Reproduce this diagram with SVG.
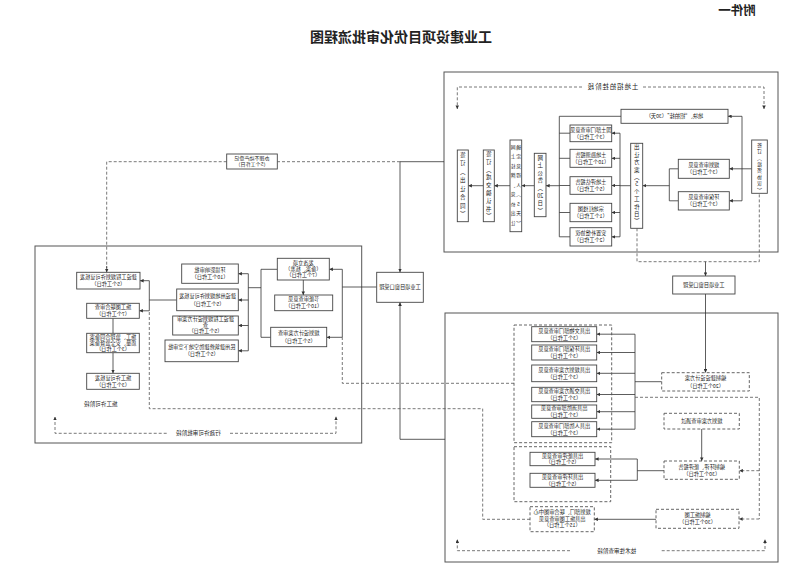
<svg xmlns="http://www.w3.org/2000/svg" width="799" height="570" viewBox="0 0 799 570">
<defs>
<style>
.stage{fill:none;stroke:#555;stroke-width:1}
.box{fill:#fff;stroke:#444;stroke-width:0.9}
.dbox{fill:#fff;stroke:#555;stroke-width:0.9;stroke-dasharray:3 2}
.grp{fill:none;stroke:#555;stroke-width:0.9;stroke-dasharray:3 2}
.ln{fill:none;stroke:#333;stroke-width:0.8}
.dl{fill:none;stroke:#555;stroke-width:0.8;stroke-dasharray:3 2}
text{font-family:"Noto Sans CJK SC","Noto Sans CJK JP",sans-serif;fill:#222;text-anchor:middle}
.t{font-size:5.2px}
.v{font-size:5.5px}
.v2{font-size:4.8px}
.lbl{font-size:5.6px}
.title{font-size:14px;font-weight:bold}
</style>
<marker id="a" viewBox="0 0 6 6" refX="6" refY="3" markerWidth="3.6" markerHeight="3.6" markerUnits="userSpaceOnUse" orient="auto"><path d="M0,0 L6,3 L0,6z" fill="#333"/></marker>
</defs>
<rect width="799" height="570" fill="#fff"/>

<text class="title" transform="matrix(-1 0 0 1 737 0)" x="0" y="15" style="font-size:12.5px">附件一</text>
<text class="title" transform="matrix(-1 0 0 1 401 0)" x="0" y="42">工业建设项目优化审批流程图</text>

<!-- stage frames -->
<g id="stage-land"><rect class="stage" x="444" y="72" width="334" height="180"/>
<text class="lbl" transform="matrix(-1 0 0 1 612.5 0)" x="0" y="89.2" style="font-size:6.4px;letter-spacing:1px">土地招拍挂阶段</text></g>
<g id="stage-permit"><rect class="stage" x="35" y="246" width="326.7" height="197"/>
<text class="lbl" transform="matrix(-1 0 0 1 100.7 0)" x="0" y="406">施工许可阶段</text>
<text class="lbl" transform="matrix(-1 0 0 1 198.3 0)" x="0" y="435.3">行政许可审批阶段</text></g>
<g id="stage-tech"><rect class="stage" x="445" y="313" width="333" height="249"/>
<text class="lbl" transform="matrix(-1 0 0 1 616.7 0)" x="0" y="552.7">技术性审查阶段</text></g>

<!-- connectors -->
<g id="connectors">
<path class="dl" d="M582,87 H457.3 V109" marker-end="url(#a)"/>
<path class="dl" d="M643,87 H764 V109" marker-end="url(#a)"/>
<path class="ln" d="M751.7,168.8 H742 M742,116.3 V200.8"/>
<path class="ln" d="M742,116.3 H728" marker-end="url(#a)"/>
<path class="ln" d="M742,168.8 H729.3" marker-end="url(#a)"/>
<path class="ln" d="M742,200.8 H729.3" marker-end="url(#a)"/>
<path class="ln" d="M678.3,168.8 H669.3 V200.8 H678.3"/>
<path class="ln" d="M669.3,185.7 H642.7" marker-end="url(#a)"/>
<path class="ln" d="M630.7,185.7 H620 M620,133.2 V236.8"/>
<path class="ln" d="M620,133.2 H611.7" marker-end="url(#a)"/>
<path class="ln" d="M620,158.3 H611.7" marker-end="url(#a)"/>
<path class="ln" d="M620,185.5 H611.7" marker-end="url(#a)"/>
<path class="ln" d="M620,212.5 H611.7" marker-end="url(#a)"/>
<path class="ln" d="M620,236.8 H611.7" marker-end="url(#a)"/>
<path class="ln" d="M621,116.3 H559.3 V236.8 H570 M570,133.2 H559.3 M570,158.3 H559.3 M570,185.5 H559.3 M570,212.5 H559.3"/>
<path class="ln" d="M559.3,185.7 H546" marker-end="url(#a)"/>
<path class="ln" d="M534.3,185.7 H521.7" marker-end="url(#a)"/>
<path class="ln" d="M510,185.7 H494.3" marker-end="url(#a)"/>
<path class="ln" d="M483.3,185.7 H468.3" marker-end="url(#a)"/>
<path class="dl" d="M637,228.3 V261.7 H759.3 V193.3"/>
<path class="ln" d="M705.5,261.7 V276" marker-end="url(#a)"/>
<path class="ln" d="M705.5,294 V372.7" marker-end="url(#a)"/>

<path class="ln" d="M444,161.7 H400 V272.3" marker-end="url(#a)"/>
<path class="dl" d="M400,161.7 H277.3 M226.7,161.7 H106.7 V268"/>
<path class="ln" d="M106.7,266 V272.3" marker-end="url(#a)"/>
<path class="ln" d="M376.7,287 H342.3 M342.3,269.3 V337.3"/>
<path class="ln" d="M342.3,269.3 H329.3" marker-end="url(#a)"/>
<path class="ln" d="M342.3,337.3 H326.7" marker-end="url(#a)"/>
<path class="dl" d="M514,383.3 H342.3 V337.3"/>
<path class="ln" d="M445,439.3 H400 V302.3" marker-end="url(#a)"/>

<path class="ln" d="M277.3,269.3 H261 V337.3 H270.7 M261,287.7 H248.3 M248.3,273.7 V350.8"/>
<path class="ln" d="M248.3,273.7 H238.3" marker-end="url(#a)"/>
<path class="ln" d="M248.3,300 H238.3" marker-end="url(#a)"/>
<path class="ln" d="M248.3,325.5 H238.3" marker-end="url(#a)"/>
<path class="ln" d="M248.3,350.8 H238.3" marker-end="url(#a)"/>
<path class="ln" d="M303.3,280 V295" marker-end="url(#a)"/>
<path class="ln" d="M176.7,300 H149.3 M149.3,280.7 V310.8"/>
<path class="ln" d="M149.3,280.7 H140" marker-end="url(#a)"/>
<path class="ln" d="M149.3,310.8 H139.3" marker-end="url(#a)"/>
<path class="dl" d="M530,519.3 H482.7 V408.7 H149.3 V310.8"/>
<path class="ln" d="M113,318.3 V333.3"/>
<path class="ln" d="M113,352.7 V373.3" marker-end="url(#a)"/>
<path class="dl" d="M166.7,433.3 H55 V416.7" marker-end="url(#a)"/>
<path class="dl" d="M230,433.3 H336 V416.7" marker-end="url(#a)"/>

<path class="ln" d="M661.7,381.7 H635 M635,334.2 V429.2"/>
<path class="ln" d="M635,334.2 H596.7" marker-end="url(#a)"/>
<path class="ln" d="M635,352.5 H596.7" marker-end="url(#a)"/>
<path class="ln" d="M635,373.3 H596.7" marker-end="url(#a)"/>
<path class="ln" d="M635,394.5 H596.7" marker-end="url(#a)"/>
<path class="ln" d="M635,411.7 H596.7" marker-end="url(#a)"/>
<path class="ln" d="M635,429.2 H596.7" marker-end="url(#a)"/>
<path class="dl" d="M635,397.3 H759.3 V519"/>
<path class="dl" d="M759.3,470.7 H739.3" marker-end="url(#a)"/>
<path class="dl" d="M759.3,519 H739" marker-end="url(#a)"/>
<path class="ln" d="M701.7,429 V461" marker-end="url(#a)"/>
<path class="ln" d="M664,470.7 H637.3 M637.3,459 V480.3"/>
<path class="ln" d="M637.3,459 H595" marker-end="url(#a)"/>
<path class="ln" d="M637.3,480.3 H595" marker-end="url(#a)"/>
<path class="ln" d="M656,519.3 H594.3" marker-end="url(#a)"/>
<path class="dl" d="M570,550.7 H457.3 V539.3" marker-end="url(#a)"/>
<path class="dl" d="M661.7,550.7 H765 V539.3" marker-end="url(#a)"/>
</g>

<!-- land stage nodes -->
<g id="land-sign-agreement"><rect class="box" x="751.7" y="140" width="15.6" height="53.3"/>
<text class="v" transform="matrix(-1 0 0 1 759.5 0)" style="font-size:5px"><tspan x="0" y="146.7">签</tspan><tspan x="0" y="153.1">订</tspan><tspan x="0" y="159.5">︵</tspan><tspan x="0" y="165.9">投</tspan><tspan x="0" y="172.3">资</tspan><tspan x="0" y="178.7">协</tspan><tspan x="0" y="185.1">议</tspan><tspan x="0" y="191.5">︶</tspan></text></g>
<g id="land-plot"><rect class="box" x="621" y="109.3" width="107" height="14"/>
<text class="t" transform="matrix(-1 0 0 1 674.5 0)" x="0" y="118.3">地块、“招拍挂”（30天）</text></g>
<g id="land-planning"><rect class="box" x="678.3" y="159.3" width="51" height="19"/>
<text class="t" transform="matrix(-1 0 0 1 703.8 0)"><tspan x="0" y="167.2">规划审查意见</tspan><tspan x="0" y="174.4">（3个工作日）</tspan></text></g>
<g id="land-env"><rect class="box" x="678.3" y="191.7" width="51" height="18.3"/>
<text class="t" transform="matrix(-1 0 0 1 703.8 0)"><tspan x="0" y="199.2">环保审查意见</tspan><tspan x="0" y="206.4">（3个工作日）</tspan></text></g>
<g id="land-plan"><rect class="box" x="630.7" y="143.3" width="12" height="85"/>
<text class="v" transform="matrix(-1 0 0 1 636.7 0)"><tspan x="0" y="149.3">出</tspan><tspan x="0" y="156.7">让</tspan><tspan x="0" y="164.1">方</tspan><tspan x="0" y="171.5">案</tspan><tspan x="0" y="178.9">︵</tspan><tspan x="0" y="186.3">5</tspan><tspan x="0" y="193.7">个</tspan><tspan x="0" y="201.1">工</tspan><tspan x="0" y="208.5">作</tspan><tspan x="0" y="215.9">日</tspan><tspan x="0" y="223.3">︶</tspan></text></g>
<g id="land-guotu"><rect class="box" x="570" y="125" width="41.7" height="16.7"/>
<text class="t" transform="matrix(-1 0 0 1 590.8 0)"><tspan x="0" y="131.6">国土部门审查意见</tspan><tspan x="0" y="138.8">（3个工作日）</tspan></text></g>
<g id="land-survey"><rect class="box" x="570" y="149.3" width="41.7" height="18"/>
<text class="t" transform="matrix(-1 0 0 1 590.8 0)"><tspan x="0" y="156.7">土地勘测报告</tspan><tspan x="0" y="163.9">（10个工作日）</tspan></text></g>
<g id="land-assess"><rect class="box" x="570" y="176.7" width="41.7" height="17.6"/>
<text class="t" transform="matrix(-1 0 0 1 590.8 0)"><tspan x="0" y="183.9">土地评估报告</tspan><tspan x="0" y="191.1">（5个工作日）</tspan></text></g>
<g id="land-redline"><rect class="box" x="570" y="203.3" width="41.7" height="18.4"/>
<text class="t" transform="matrix(-1 0 0 1 590.8 0)"><tspan x="0" y="210.9">宗地红线图</tspan><tspan x="0" y="218.1">（1个工作日）</tspan></text></g>
<g id="land-resettle"><rect class="box" x="570" y="227.7" width="41.7" height="18.3"/>
<text class="t" transform="matrix(-1 0 0 1 590.8 0)"><tspan x="0" y="235.2">安置补偿协议</tspan><tspan x="0" y="242.4">（2个工作日）</tspan></text></g>
<g id="land-notice"><rect class="box" x="534.3" y="153.3" width="11.7" height="63.4"/>
<text class="v" transform="matrix(-1 0 0 1 540.2 0)"><tspan x="0" y="159.5">网</tspan><tspan x="0" y="167.1">上</tspan><tspan x="0" y="174.7">公</tspan><tspan x="0" y="182.3">告</tspan><tspan x="0" y="189.9">︵</tspan><tspan x="0" y="197.5">20</tspan><tspan x="0" y="205.1">日</tspan><tspan x="0" y="212.7">︶</tspan></text></g>
<g id="land-auction"><rect class="box" x="510" y="140" width="11.7" height="91.7"/>
<text class="v2" transform="matrix(-1 0 0 1 515.8 0)"><tspan x="2.7" y="148.8">网</tspan><tspan x="2.7" y="158.3">上</tspan><tspan x="2.7" y="167.8">挂</tspan><tspan x="2.7" y="177.3">牌</tspan><tspan x="2.7" y="186.8">、</tspan><tspan x="2.7" y="196.3">竞</tspan><tspan x="2.7" y="205.8">价</tspan><tspan x="2.7" y="215.3">出</tspan><tspan x="2.7" y="224.8">让</tspan><tspan x="-2.7" y="148.8">确</tspan><tspan x="-2.7" y="158.3">定</tspan><tspan x="-2.7" y="167.8">竞</tspan><tspan x="-2.7" y="177.3">得</tspan><tspan x="-2.7" y="186.8">人</tspan><tspan x="-2.7" y="196.3">︵</tspan><tspan x="-2.7" y="205.8">5</tspan><tspan x="-2.7" y="215.3">天</tspan><tspan x="-2.7" y="224.8">︶</tspan></text></g>
<g id="land-confirm"><rect class="box" x="483.3" y="150" width="11" height="71.7"/>
<text class="v" transform="matrix(-1 0 0 1 488.8 0)"><tspan x="0" y="156">签</tspan><tspan x="0" y="163.8">订</tspan><tspan x="0" y="171.6">︵</tspan><tspan x="0" y="179.4">成</tspan><tspan x="0" y="187.2">交</tspan><tspan x="0" y="195">确</tspan><tspan x="0" y="202.8">认</tspan><tspan x="0" y="210.6">书</tspan><tspan x="0" y="218.4">︶</tspan></text></g>
<g id="land-contract"><rect class="box" x="457.3" y="150" width="11" height="71.7"/>
<text class="v" transform="matrix(-1 0 0 1 462.8 0)"><tspan x="0" y="156.5">签</tspan><tspan x="0" y="165">订</tspan><tspan x="0" y="173.5">︵</tspan><tspan x="0" y="182">出</tspan><tspan x="0" y="190.5">让</tspan><tspan x="0" y="199">合</tspan><tspan x="0" y="207.5">同</tspan><tspan x="0" y="216">︶</tspan></text></g>

<!-- middle nodes -->
<g id="property-reg"><rect class="box" x="226.7" y="154" width="50.6" height="15"/>
<text class="t" transform="matrix(-1 0 0 1 252 0)" style="font-size:5px"><tspan x="0" y="159.8">办理不动产登记</tspan><tspan x="0" y="166.4">（5个工作日）</tspan></text></g>
<g id="accept-left"><rect class="box" x="376.7" y="272.3" width="46.6" height="30"/>
<text class="t" transform="matrix(-1 0 0 1 400 0)" x="0" y="289.3">工业项目窗口受理</text></g>
<g id="accept-right"><rect class="box" x="672.7" y="276" width="62.3" height="18"/>
<text class="t" transform="matrix(-1 0 0 1 703.8 0)" x="0" y="287">工业项目窗口受理</text></g>

<!-- permit stage nodes -->
<g id="p-build-permit"><rect class="box" x="76.7" y="272.3" width="63.3" height="16.7"/>
<text class="t" transform="matrix(-1 0 0 1 108.3 0)"><tspan x="0" y="279.1">建设工程规划许可证核发</tspan><tspan x="0" y="286.3">（5个工作日）</tspan></text></g>
<g id="p-drawing"><rect class="box" x="86.7" y="303.3" width="52.6" height="15"/>
<text class="t" transform="matrix(-1 0 0 1 113 0)"><tspan x="0" y="309.2">施工图联合审查</tspan><tspan x="0" y="316.4">（7个工作日）</tspan></text></g>
<g id="p-filing"><rect class="box" x="86.7" y="333.3" width="52.6" height="19.4"/>
<text class="t" transform="matrix(-1 0 0 1 113 0)"><tspan x="0" y="339.1">施工、监理合同备案</tspan><tspan x="0" y="344.9">质量、安全监督备案</tspan><tspan x="0" y="350.7">（3个工作日）</tspan></text></g>
<g id="p-construction-permit"><rect class="box" x="86.7" y="373.3" width="52.6" height="16"/>
<text class="t" transform="matrix(-1 0 0 1 113 0)"><tspan x="0" y="379.7">施工许可证核发</tspan><tspan x="0" y="386.9">（3个工作日）</tspan></text></g>
<g id="p-eia"><rect class="box" x="181.7" y="264" width="56.6" height="19.3"/>
<text class="t" transform="matrix(-1 0 0 1 210 0)"><tspan x="0" y="272.1">环境影响审批</tspan><tspan x="0" y="279.3">（10个工作日）</tspan></text></g>
<g id="p-land-permit"><rect class="box" x="176.7" y="289" width="61.6" height="21.7"/>
<text class="t" transform="matrix(-1 0 0 1 207.5 0)"><tspan x="0" y="298.4">建设用地规划许可证核发</tspan><tspan x="0" y="305.6">（5个工作日）</tspan></text></g>
<g id="p-design"><rect class="box" x="172.7" y="316" width="65.6" height="19"/>
<text class="t" transform="matrix(-1 0 0 1 205.5 0)"><tspan x="0" y="321">建设工程规划设计方案审</tspan><tspan x="0" y="326.9">查</tspan><tspan x="0" y="332.8">（5个工作日）</tspan></text></g>
<g id="p-civil-defense"><rect class="box" x="165" y="340" width="73.3" height="21.7"/>
<text class="t" transform="matrix(-1 0 0 1 201.7 0)"><tspan x="0" y="349.2">民用建筑修建防空地下室审批</tspan><tspan x="0" y="356.4">（5个工作日）</tspan></text></g>
<g id="p-approval"><rect class="box" x="277.3" y="258.3" width="52" height="21.7"/>
<text class="t" transform="matrix(-1 0 0 1 303.3 0)"><tspan x="0" y="264.7">发改立项</tspan><tspan x="0" y="270.9">（备案、核准）</tspan><tspan x="0" y="277.1">（7个工作日）</tspan></text></g>
<g id="p-energy"><rect class="box" x="274.7" y="295" width="58" height="15.7"/>
<text class="t" transform="matrix(-1 0 0 1 303.7 0)"><tspan x="0" y="301.2">节能审查意见</tspan><tspan x="0" y="308.4">（10个工作日）</tspan></text></g>
<g id="p-scheme"><rect class="box" x="270.7" y="327.3" width="56" height="19.4"/>
<text class="t" transform="matrix(-1 0 0 1 298.7 0)"><tspan x="0" y="335.4">规划设计方案审查</tspan><tspan x="0" y="342.6">（5个工作日）</tspan></text></g>

<!-- technical stage nodes -->
<g id="t-group1"><rect class="grp" x="514" y="325" width="97.7" height="117.7"/></g>
<g id="t-op1"><rect class="box" x="531.7" y="326.7" width="65" height="15"/>
<text class="t" transform="matrix(-1 0 0 1 564.2 0)"><tspan x="0" y="332.6">出具文物部门审查意见</tspan><tspan x="0" y="339.8">（3个工作日）</tspan></text></g>
<g id="t-op2"><rect class="box" x="531.7" y="345" width="65" height="15"/>
<text class="t" transform="matrix(-1 0 0 1 564.2 0)"><tspan x="0" y="350.9">出具环保部门审查意见</tspan><tspan x="0" y="358.1">（3个工作日）</tspan></text></g>
<g id="t-op3"><rect class="box" x="531.7" y="365" width="65" height="16.7"/>
<text class="t" transform="matrix(-1 0 0 1 564.2 0)"><tspan x="0" y="371.7">出具规划方案审查意见</tspan><tspan x="0" y="378.9">（3个工作日）</tspan></text></g>
<g id="t-op4"><rect class="box" x="531.7" y="387.3" width="65" height="14.4"/>
<text class="t" transform="matrix(-1 0 0 1 564.2 0)"><tspan x="0" y="392.9">出具交通方案审查意见</tspan><tspan x="0" y="400.1">（3个工作日）</tspan></text></g>
<g id="t-op5"><rect class="box" x="531.7" y="405" width="65" height="13.3"/>
<text class="t" transform="matrix(-1 0 0 1 564.2 0)"><tspan x="0" y="410.1">出具消防部审查意见</tspan><tspan x="0" y="416.9">（3个工作日）</tspan></text></g>
<g id="t-op6"><rect class="box" x="531.7" y="421.7" width="65" height="15"/>
<text class="t" transform="matrix(-1 0 0 1 564.2 0)"><tspan x="0" y="427.6">出具人防部门审查意见</tspan><tspan x="0" y="434.8">（3个工作日）</tspan></text></g>
<g id="t-scheme-draft"><rect class="dbox" x="661.7" y="372.7" width="87.6" height="18.3"/>
<text class="t" transform="matrix(-1 0 0 1 705.5 0)"><tspan x="0" y="380.4">编制建设设计方案</tspan><tspan x="0" y="387.6">（20个工作日）</tspan></text></g>
<g id="t-scheme-pass"><rect class="dbox" x="664" y="413.3" width="75.3" height="15.7"/>
<text class="t" transform="matrix(-1 0 0 1 701.7 0)" x="0" y="423.2">规划方案审查通过</text></g>
<g id="t-eia-draft"><rect class="dbox" x="664" y="461" width="75.3" height="18.3"/>
<text class="t" transform="matrix(-1 0 0 1 701.7 0)"><tspan x="0" y="468.6">编制环评、能评报告</tspan><tspan x="0" y="475.8">（30个工作日）</tspan></text></g>
<g id="t-group2"><rect class="grp" x="514" y="446.7" width="96.7" height="55"/></g>
<g id="t-energy-op"><rect class="box" x="530" y="452.3" width="65" height="13.4"/>
<text class="t" transform="matrix(-1 0 0 1 562.5 0)"><tspan x="0" y="457.5">出具能评审查意见</tspan><tspan x="0" y="464.4">（5个工作日）</tspan></text></g>
<g id="t-eia-op"><rect class="box" x="530" y="473.3" width="65" height="14"/>
<text class="t" transform="matrix(-1 0 0 1 562.5 0)"><tspan x="0" y="478.7">出具环评审查意见</tspan><tspan x="0" y="485.9">（5个工作日）</tspan></text></g>
<g id="t-drawing-draft"><rect class="dbox" x="656" y="509.3" width="83" height="19"/>
<text class="t" transform="matrix(-1 0 0 1 697.5 0)"><tspan x="0" y="517.2">编制施工图</tspan><tspan x="0" y="524.4">（30个工作日）</tspan></text></g>
<g id="t-drawing-review"><rect class="dbox" x="530" y="506.7" width="64.3" height="25"/>
<text class="t" transform="matrix(-1 0 0 1 562.2 0)"><tspan x="0" y="514.2">规划部门、联合审图中心</tspan><tspan x="0" y="520.6">出具施工图审查意见</tspan><tspan x="0" y="527">（15个工作日）</tspan></text></g>
</svg>
